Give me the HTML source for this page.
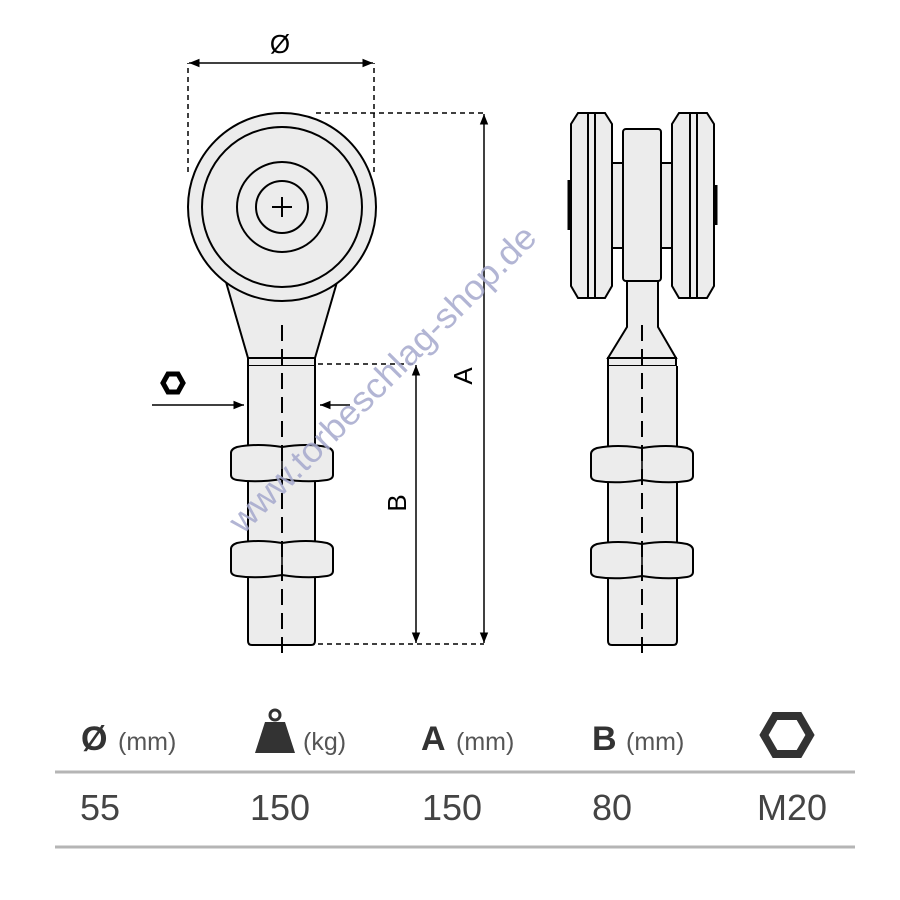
<!DOCTYPE html>
<html><head><meta charset="utf-8"><style>
body{margin:0;background:#fff;width:900px;height:900px;overflow:hidden}
svg{position:absolute;left:0;top:0}
</style></head><body>
<svg width="900" height="900" viewBox="0 0 900 900" xmlns="http://www.w3.org/2000/svg">
<defs>
<marker id="ar" viewBox="0 0 10 10" refX="10" refY="5" markerWidth="7" markerHeight="7" orient="auto-start-reverse"><path d="M0,1 L10,5 L0,9 z" fill="#000"/></marker>
<g id="nut"><path d="M-51,4 Q-51,0 -45,-2 Q-25,-6 0,-2 Q25,-6 45,-2 Q51,0 51,4 L51,26 Q51,30 45,31 Q25,34 0,30 Q-25,34 -45,31 Q-51,30 -51,26 Z" fill="#ececec" stroke="#000" stroke-width="2"/><line x1="0" y1="-2" x2="0" y2="30" stroke="#000" stroke-width="1.5"/></g>
</defs>
<g fill="#ececec" stroke="#000" stroke-width="2">
<path d="M226,282 L248,358 L315,358 L337,282 Z"/>
<rect x="248" y="358" width="67" height="8"/>
<path d="M248,366 L248,641 Q248,645 252,645 L311,645 Q315,645 315,641 L315,366"/>
<circle cx="282" cy="207" r="94"/>
<circle cx="282" cy="207" r="80"/>
<circle cx="282" cy="207" r="45"/>
<circle cx="282" cy="207" r="26"/>
</g>
<path d="M272,207 H292 M282,197 V217" stroke="#000" stroke-width="2"/>
<use href="#nut" x="282" y="449"/>
<use href="#nut" x="282" y="545"/>
<line x1="282" y1="325" x2="282" y2="657" stroke="#000" stroke-width="2" stroke-dasharray="16,8"/>
<g stroke="#000" stroke-width="1.5" fill="none">
<path d="M188,172 V63 M374,172 V63 M316,113 H484 M318,644 H484 M318,364 H416" stroke-dasharray="5,4"/>
<line x1="189" y1="63" x2="373" y2="63" marker-start="url(#ar)" marker-end="url(#ar)"/>
<line x1="484" y1="114" x2="484" y2="643" marker-start="url(#ar)" marker-end="url(#ar)"/>
<line x1="416" y1="365" x2="416" y2="643" marker-start="url(#ar)" marker-end="url(#ar)"/>
<line x1="152" y1="405" x2="244" y2="405" marker-end="url(#ar)"/>
<line x1="350" y1="405" x2="320" y2="405" marker-end="url(#ar)"/>
</g>
<polygon points="163,383 168,374 178,374 183,383 178,392 168,392" fill="none" stroke="#000" stroke-width="5"/>
<g font-family="Liberation Sans, sans-serif" font-size="26" fill="#000">
<text x="280" y="53" text-anchor="middle">Ø</text>
<text transform="translate(472,376) rotate(-90)" text-anchor="middle">A</text>
<text transform="translate(406,503) rotate(-90)" text-anchor="middle">B</text>
</g>
<g fill="#ececec" stroke="#000" stroke-width="2">
<rect x="612" y="163" width="60" height="85"/>
<path d="M627,281 L627,327 L608,358 L676,358 L658,327 L658,281 Z"/>
<rect x="608" y="358" width="68" height="8"/>
<path d="M608,366 L608,641 Q608,645 612,645 L673,645 Q677,645 677,641 L677,366"/>
<rect x="623" y="129" width="38" height="152" rx="3"/>
<path d="M578,113 L605,113 L612,124 L612,286 L605,298 L578,298 L571,286 L571,124 Z"/>
<path d="M679,113 L707,113 L714,124 L714,286 L707,298 L679,298 L672,286 L672,124 Z"/>
</g>
<g stroke="#000" stroke-width="2">
<path d="M588,113 V298 M595,113 V298 M690,113 V298 M697,113 V298"/>
<path d="M569,180 V230 M716,185 V225" stroke-width="3"/>
</g>
<use href="#nut" x="642" y="450"/>
<use href="#nut" x="642" y="546"/>
<line x1="642" y1="325" x2="642" y2="657" stroke="#000" stroke-width="2" stroke-dasharray="16,8"/>
<text transform="translate(243,535) rotate(-45)" font-family="Liberation Sans, sans-serif" font-size="35" fill="#a4a8cc" fill-opacity="0.85" textLength="418" lengthAdjust="spacingAndGlyphs">www.torbeschlag-shop.de</text>
<line x1="55" y1="772" x2="855" y2="772" stroke="#b5b5b5" stroke-width="3"/>
<line x1="55" y1="847" x2="855" y2="847" stroke="#b5b5b5" stroke-width="3"/>
<g font-family="Liberation Sans Narrow, Liberation Sans, sans-serif" fill="#333">
<text x="81" y="750" font-size="34" font-weight="bold">Ø</text>
<text x="118" y="750" font-size="25" fill="#555">(mm)</text>
<text x="303" y="750" font-size="25" fill="#555">(kg)</text>
<text x="421" y="750" font-size="34" font-weight="bold">A</text>
<text x="456" y="750" font-size="25" fill="#555">(mm)</text>
<text x="592" y="750" font-size="34" font-weight="bold">B</text>
<text x="626" y="750" font-size="25" fill="#555">(mm)</text>
<g font-size="36" fill="#444">
<text x="80" y="820">55</text>
<text x="250" y="820">150</text>
<text x="422" y="820">150</text>
<text x="592" y="820">80</text>
<text x="757" y="820">M20</text>
</g>
</g>
<circle cx="275" cy="715" r="5" fill="none" stroke="#333" stroke-width="3"/>
<path d="M265,722 L285,722 L295,753 L255,753 Z" fill="#333"/>
<polygon points="764,735 775,716 799,716 810,735 799,754 775,754" fill="none" stroke="#333" stroke-width="8"/>
</svg>
</body></html>
